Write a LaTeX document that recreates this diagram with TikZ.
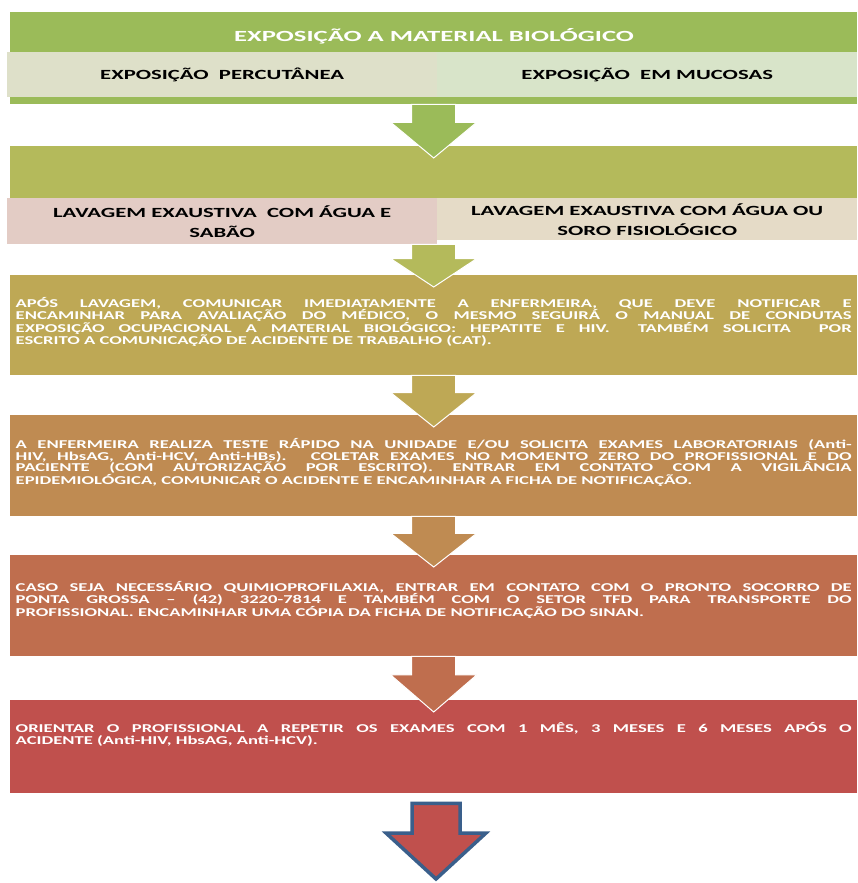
\documentclass[tikz,border=0pt]{standalone}
\usepackage{fontspec}
\setmainfont{Carlito}
\newfontfamily\titlefont{Carlito}[FakeStretch=1.72]
\newfontfamily\rowfont{Carlito}[FakeStretch=1.62]
\newfontfamily\flowfont{Carlito}[FakeStretch=1.55]
\usetikzlibrary{calc}

\definecolor{hdrgreen}{HTML}{9BBB59}
\definecolor{percfill}{HTML}{DEE0C9}
\definecolor{mucfill}{HTML}{D8E4C9}
\definecolor{lavgreen}{HTML}{B4BA5B}
\definecolor{sabfill}{HTML}{E3CCC5}
\definecolor{sorofill}{HTML}{E5DBC7}
\definecolor{notiffill}{HTML}{BEA855}
\definecolor{examfill}{HTML}{BF8B52}
\definecolor{qpxfill}{HTML}{BF6E4E}
\definecolor{repfill}{HTML}{C0504D}
\definecolor{endline}{HTML}{3A5F8B}

\begin{document}
\begin{tikzpicture}[x=1pt,y=-1pt,
    flow/.style={draw=white,line width=1pt,
      to path={let \p1=(\tikztostart.south), \p2=(\tikztotarget.north),
        \p3=(\x2,{\y2-12pt}), \p4=(\x2,{(2*\y1+\y3)/3}) in
        (\x2-22pt,\y1) -- (\x2-22pt,\y4) -- (\x2-43pt,\y4) -- (\p3)
        -- (\x2+43pt,\y4) -- (\x2+22pt,\y4) -- (\x2+22pt,\y1) -- cycle}},
    lastflow/.style={draw=endline,line width=3.5pt,
      to path={let \p1=(\tikztostart.south), \p2=(\tikztotarget) in
        (\x2-24pt,{\y1-10pt}) -- (\x2-24pt,{\y2+46pt}) -- (\x2-50pt,{\y2+46pt}) -- (\p2)
        -- (\x2+50pt,{\y2+46pt}) -- (\x2+24pt,{\y2+46pt}) -- (\x2+24pt,{\y1-10pt}) -- cycle}}]
      \useasboundingbox (0,0) rectangle (857,883);
      \begin{scope}[every node/.style={rectangle,anchor=north west,inner sep=0pt}]
        \node[fill=hdrgreen,minimum width=847pt,minimum height=92pt] (hdr) at (10,12) {};
        \node[fill=lavgreen,minimum width=847pt,minimum height=52pt] (lav) at (10,146) {};
      \end{scope}
      \node[text=white,font=\titlefont\bfseries\fontsize{15.5}{18}\selectfont] (title) at (434,36) {EXPOSIÇÃO A MATERIAL BIOLÓGICO};
      \begin{scope}[every node/.style={rectangle,anchor=north west,inner sep=0pt,align=center,
          font=\rowfont\bfseries\fontsize{14}{20}\selectfont}]
        \node[fill=percfill,minimum width=430pt,minimum height=45pt] (perc) at (7,52) {EXPOSIÇÃO~ PERCUTÂNEA};
        \node[fill=mucfill,minimum width=420pt,minimum height=45pt] (muc) at (437,52) {EXPOSIÇÃO~ EM MUCOSAS};
        \node[fill=sabfill,minimum width=430pt,minimum height=46pt] (sab) at (7,198) {LAVAGEM EXAUSTIVA~ COM ÁGUA E\\SABÃO};
        \node[fill=sorofill,minimum width=420pt,minimum height=42pt] (soro) at (437,198) {LAVAGEM EXAUSTIVA COM ÁGUA OU\\SORO FISIOLÓGICO};
      \end{scope}
      \begin{scope}[every node/.style={rectangle,anchor=north west,inner sep=0pt,text=white,
          minimum width=847pt,text width=836pt,align=justify,
          font=\flowfont\bfseries\fontsize{12}{11.8}\selectfont}]
        \node[fill=notiffill,minimum height=100pt,text depth=45pt] (notif) at (10,275)
          {APÓS LAVAGEM, COMUNICAR IMEDIATAMENTE A ENFERMEIRA, QUE DEVE NOTIFICAR E\linebreak
           ENCAMINHAR PARA AVALIAÇÃO DO MÉDICO, O MESMO SEGUIRÁ O MANUAL DE CONDUTAS\linebreak
           EXPOSIÇÃO OCUPACIONAL A MATERIAL BIOLÓGICO: HEPATITE E HIV.~ TAMBÉM SOLICITA~ POR\linebreak
           ESCRITO A COMUNICAÇÃO DE ACIDENTE DE TRABALHO (CAT).};
        \node[fill=examfill,minimum height=101pt,text depth=45pt] (exam) at (10,415)
          {A ENFERMEIRA REALIZA TESTE RÁPIDO NA UNIDADE E/OU SOLICITA EXAMES LABORATORIAIS (Anti-\linebreak
           HIV, HbsAG, Anti-HCV, Anti-HBs). COLETAR EXAMES NO MOMENTO ZERO DO PROFISSIONAL E DO\linebreak
           PACIENTE (COM AUTORIZAÇÃO POR ESCRITO). ENTRAR EM CONTATO COM A VIGILÂNCIA\linebreak
           EPIDEMIOLÓGICA, COMUNICAR O ACIDENTE E ENCAMINHAR A FICHA DE NOTIFICAÇÃO.};
        \node[fill=qpxfill,minimum height=101pt,text depth=38pt] (qpx) at (10,555)
          {CASO SEJA NECESSÁRIO QUIMIOPROFILAXIA, ENTRAR EM CONTATO COM O PRONTO SOCORRO DE\linebreak
           PONTA GROSSA – (42) 3220-7814 E TAMBÉM COM O SETOR TFD PARA TRANSPORTE DO\linebreak
           PROFISSIONAL. ENCAMINHAR UMA CÓPIA DA FICHA DE NOTIFICAÇÃO DO SINAN.};
        \node[fill=repfill,minimum height=93pt,text depth=38pt] (rep) at (10,700)
          {ORIENTAR O PROFISSIONAL A REPETIR OS EXAMES COM 1 MÊS, 3 MESES E 6 MESES APÓS O\linebreak
           ACIDENTE (Anti-HIV, HbsAG, Anti-HCV).};
      \end{scope}
      \coordinate (fim) at (436,879);
      \path (hdr) edge[flow,fill=hdrgreen] (lav);
      \path (sab) edge[flow,fill=lavgreen] (notif);
      \path (notif) edge[flow,fill=notiffill] (exam);
      \path (exam) edge[flow,fill=examfill] (qpx);
      \path (qpx) edge[flow,fill=qpxfill] (rep);
      \path (rep) edge[lastflow,fill=repfill] (fim);
    \end{tikzpicture}
\end{document}
